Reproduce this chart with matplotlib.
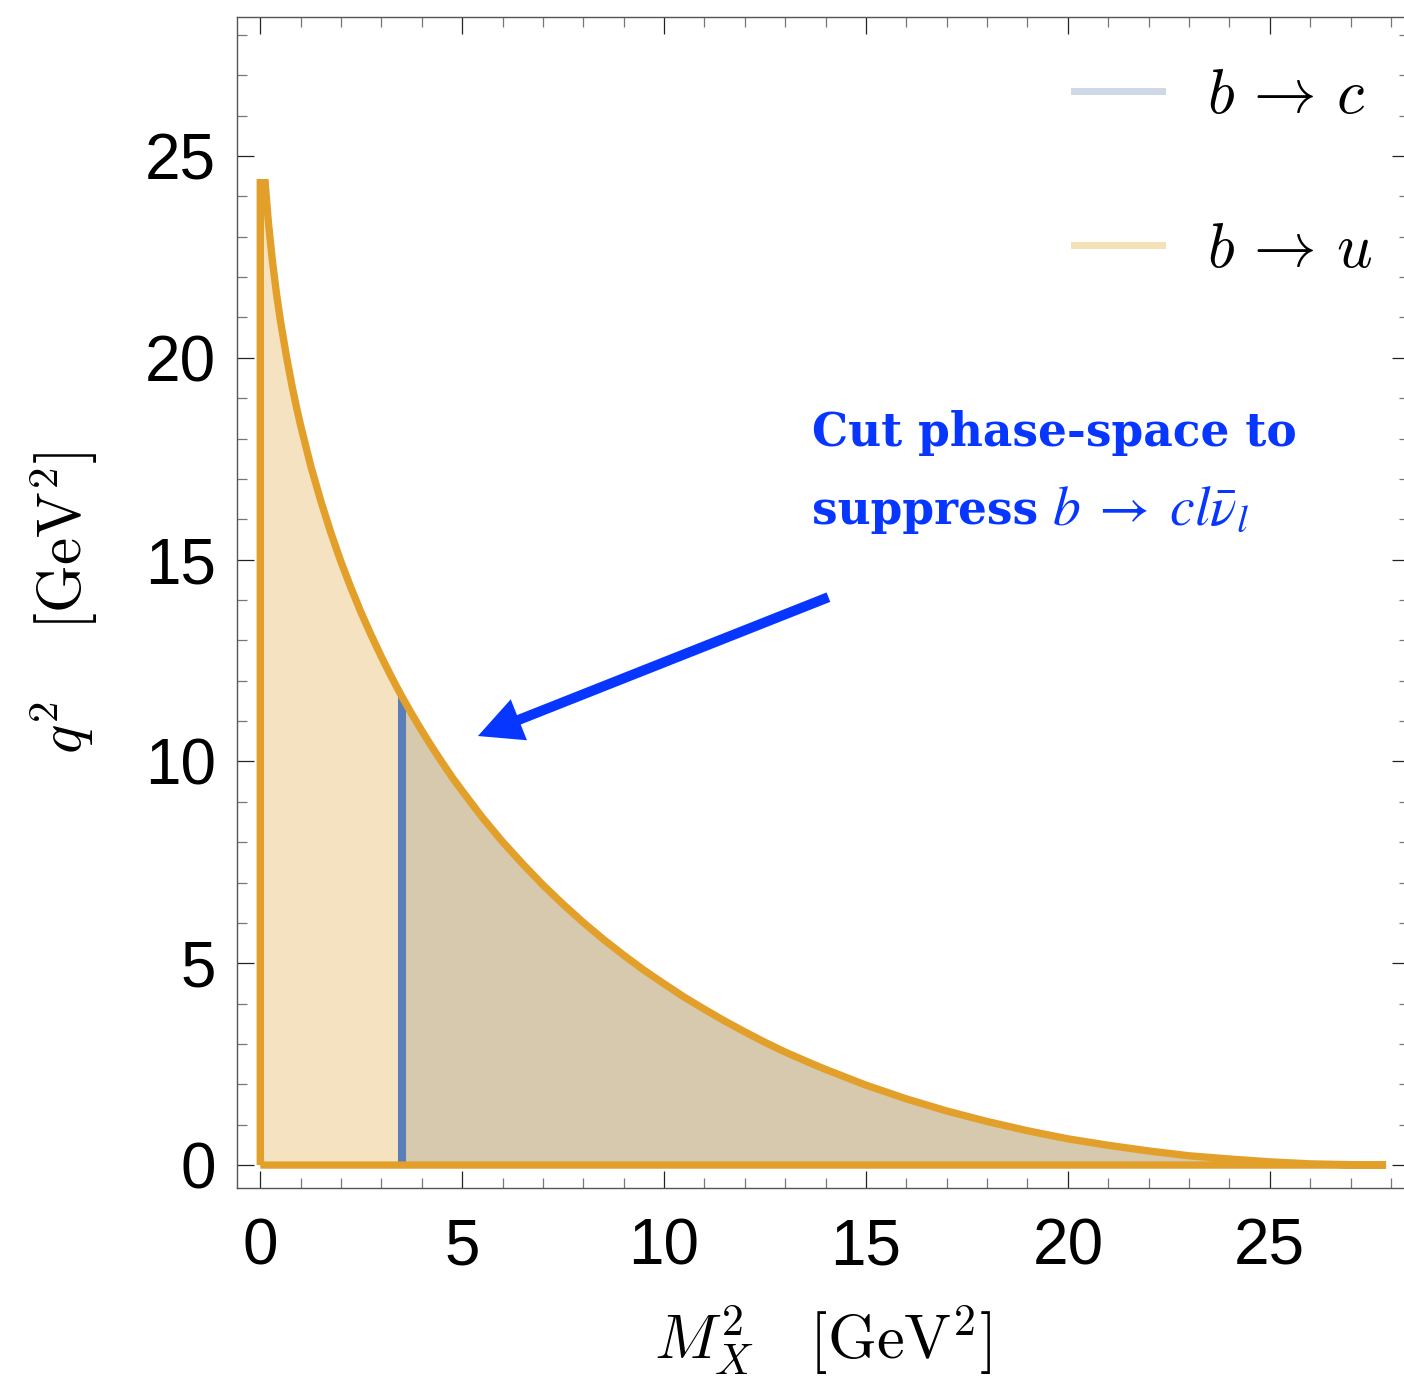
import matplotlib
matplotlib.use("Agg")
import matplotlib.pyplot as plt
from matplotlib.lines import Line2D
from matplotlib.ticker import MultipleLocator

plt.rcParams["mathtext.fontset"] = "cm"

# Kinematic boundary of B -> X l nu in the (M_X^2, q^2) plane, GeV^2
mx2 = [0.0, 0.12, 0.2, 0.3, 0.4, 0.5, 0.65, 0.8, 0.9, 1.0,
       1.25, 1.5, 1.75, 2.0, 2.25, 2.5, 2.75, 3.0, 3.25, 3.5,
       3.75, 4.0, 4.25, 4.5, 4.75, 5.0, 5.5, 6.0, 6.5, 7.0,
       7.5, 8.0, 8.5, 9.0, 9.5, 10.0, 10.5, 11.0, 11.5, 12.0,
       12.5, 13.0, 13.5, 14.0, 15.0, 16.0, 17.0, 18.0, 19.0, 20.0,
       21.0, 22.0, 23.0, 24.0, 25.0, 26.0, 27.0, 27.88]
q2_max = [24.34, 24.34, 23.36, 22.40, 21.60, 20.91, 20.02, 19.23, 18.76, 18.32,
          17.32, 16.45, 15.66, 14.94, 14.29, 13.68, 13.12, 12.59, 12.09, 11.62,
          11.18, 10.76, 10.36, 9.98, 9.61, 9.27, 8.61, 8.01, 7.46, 6.94,
          6.46, 6.01, 5.59, 5.20, 4.83, 4.49, 4.16, 3.86, 3.57, 3.30,
          3.04, 2.80, 2.58, 2.37, 1.98, 1.64, 1.34, 1.08, 0.85, 0.65,
          0.49, 0.35, 0.23, 0.15, 0.08, 0.03, 0.01, 0.0]
# charm threshold, M_X^2 >= m_D^2
charm_cut = 3.5

series_labels = [r"$b\,\rightarrow\,c$", r"$b\,\rightarrow\,u$"]
major_ticks = [0, 5, 10, 15, 20, 25]

ORANGE = "#E2A02B"
FILL_U = "#F5E2C1"
FILL_C = "#D6C9AE"
BLUE = "#5A7FB8"
LEG_C = "#CED8E7"
LEG_U = "#F6E0B6"
NOTE = "#0636FF"

fig = plt.figure(figsize=(14.04, 13.86), dpi=100)
ax = fig.add_axes([0.1688, 0.1426, 0.8348, 0.8453])
lo, hi = -0.577, 28.45
ax.set_xlim(lo, hi)
ax.set_ylim(lo, hi)

# b -> u: full phase space
ax.fill_between(mx2, 0, q2_max, facecolor=FILL_U, linewidth=0, zorder=1)

# b -> c: region above the charm threshold
i_cut = mx2.index(charm_cut)
ax.fill_between(mx2[i_cut:], 0, q2_max[i_cut:], facecolor=FILL_C,
                linewidth=0, zorder=2)
ax.vlines(charm_cut, 0, q2_max[i_cut], color=BLUE, lw=5.8, zorder=3)

# outline of the full phase space
edge_x = [0.0] + mx2 + [0.0]
edge_y = [0.0] + q2_max + [0.0]
ax.plot(edge_x, edge_y, color=ORANGE, lw=5.3, solid_joinstyle="miter",
        solid_capstyle="butt", zorder=4)

# ticks, Mathematica-style frame
ax.xaxis.set_minor_locator(MultipleLocator(1))
ax.yaxis.set_minor_locator(MultipleLocator(1))
ax.set_xticks(major_ticks)
ax.set_yticks(major_ticks)
ax.tick_params(which="both", direction="in", top=True, right=True)
ax.tick_params(which="major", length=12.2, width=0.9, color="#222222",
               labelsize=46)
ax.tick_params(which="minor", length=7.2, width=0.9, color="#777777")
ax.tick_params(axis="x", which="major", pad=21)
ax.tick_params(axis="y", which="major", pad=15)
for lab in ax.get_xticklabels() + ax.get_yticklabels():
    lab.set_family("Liberation Sans")
for sp in ax.spines.values():
    sp.set_color("#555555")
    sp.set_linewidth(1.0)

ax.set_xlabel(r"$M_X^2\quad[\mathrm{GeV}^2]$", fontsize=45)
ax.xaxis.label.set_verticalalignment("baseline")
ax.xaxis.set_label_coords(0.5, -0.146)
ax.set_ylabel(r"$q^2\quad\;[\mathrm{GeV}^2]$", fontsize=44)
ax.yaxis.label.set_verticalalignment("center")
ax.yaxis.set_label_coords(-0.1476, 0.5)

handles = [Line2D([], [], color=LEG_C, lw=5),
           Line2D([], [], color=LEG_U, lw=5)]
ax.legend(handles, series_labels, loc="upper left",
          bbox_to_anchor=(0.7145, 0.958), frameon=False, fontsize=45,
          handlelength=1.4, handletextpad=0.72, labelspacing=1.5,
          borderpad=0, borderaxespad=0)

# annotation for the cut
note_x, line1_y, line2_y = 13.67, 17.81, 15.88
ax.text(note_x, line1_y, "Cut phase-space to", color=NOTE, fontsize=32.8,
        family="DejaVu Serif", fontweight="bold", va="baseline", zorder=5)
t_sup = ax.text(note_x, line2_y, "suppress", color=NOTE, fontsize=32.8,
                family="DejaVu Serif", fontweight="bold", va="baseline",
                zorder=5)
ax.annotate(r"$b\;\rightarrow\;c l\bar{\nu}_l$", xy=(1.0, line2_y),
            xycoords=(t_sup, "data"), xytext=(10, 0),
            textcoords="offset points", color=NOTE, fontsize=40,
            math_fontfamily="stix", va="baseline", ha="left", zorder=5)
ax.arrow(14.07, 14.07, 5.39 - 14.07, 10.63 - 14.07, width=0.25,
         head_width=1.09, head_length=1.09, length_includes_head=True,
         color=NOTE, linewidth=0, zorder=5)

fig.savefig("out.png", dpi=100)
